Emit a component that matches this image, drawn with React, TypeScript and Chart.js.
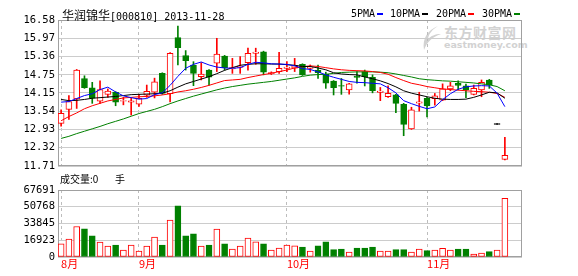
import React, { useEffect, useRef } from "react";
import { Chart, registerables } from "chart.js";
Chart.register(...registerables);

// ---------- data ----------
const monthLabels = ["8月", "9月", "10月", "11月"];
const monthStarts = [0, 10, 29, 47];

const opens = [13.13, 13.60, 13.95, 14.63, 14.32, 13.87, 14.10, 14.17, 13.87, 13.85,
  13.77, 14.07, 14.17, 14.80, 14.12, 15.99, 15.39, 15.08, 14.69, 14.91,
  15.14, 15.38, 14.96, 15.01, 15.16, 15.48, 15.52, 14.78, 14.86, 14.98,
  14.97, 15.10, 14.98, 14.91, 14.77, 14.54, 14.39, 14.25, 14.70, 14.86,
  14.67, 14.18, 14.02, 14.08, 13.77, 12.95, 13.82, 13.97, 13.96, 13.91,
  14.28, 14.47, 14.38, 14.10, 14.25, 14.58, 13.11, 11.93];
const highs = [13.58, 14.06, 14.93, 14.72, 14.50, 14.55, 14.28, 14.19, 14.00, 13.99,
  14.10, 14.41, 14.64, 14.82, 15.49, 16.38, 15.56, 15.19, 15.16, 14.93,
  15.97, 15.40, 15.30, 15.36, 15.64, 15.64, 15.54, 14.85, 15.50, 15.19,
  15.30, 15.12, 15.08, 15.08, 14.84, 14.56, 14.63, 14.47, 14.86, 14.91,
  14.75, 14.33, 14.38, 14.10, 13.80, 13.67, 14.17, 14.00, 14.13, 14.45,
  14.50, 14.55, 14.44, 14.41, 14.58, 14.60, 13.11, 12.67];
const lows = [13.04, 13.26, 13.63, 14.30, 13.80, 13.80, 14.00, 13.72, 13.75, 13.41,
  13.70, 14.00, 13.98, 14.10, 13.85, 15.08, 14.91, 14.39, 14.58, 14.41,
  14.86, 14.91, 14.80, 14.80, 14.91, 15.10, 14.75, 14.76, 14.80, 14.86,
  14.86, 14.73, 14.84, 14.63, 14.30, 14.08, 14.10, 14.11, 14.47, 14.38,
  14.15, 13.89, 14.00, 13.49, 12.72, 12.93, 13.54, 13.35, 13.74, 13.89,
  14.22, 14.25, 13.99, 14.08, 14.02, 14.30, 13.11, 11.91];
const closes = [13.47, 13.86, 14.91, 14.32, 13.97, 14.26, 14.21, 13.84, 13.89, 13.87,
  13.97, 14.20, 14.52, 14.13, 15.47, 15.66, 15.22, 14.80, 14.78, 14.67,
  15.44, 14.99, 14.98, 15.03, 15.47, 15.50, 14.84, 14.83, 14.97, 15.00,
  15.06, 14.75, 15.00, 14.82, 14.47, 14.32, 14.37, 14.45, 14.68, 14.69,
  14.22, 14.20, 14.13, 13.80, 13.10, 13.58, 13.84, 13.71, 14.05, 14.28,
  14.38, 14.40, 14.25, 14.30, 14.50, 14.41, 13.11, 12.07];
const volumes = [13400, 18100, 30800, 28500, 21400, 15100, 11100, 12100, 7000, 12100,
  6000, 11100, 20100, 12100, 37200, 51600, 21400, 23500, 11100, 12100,
  28100, 13400, 8000, 11100, 19100, 15400, 13400, 7000, 9000, 12100,
  11400, 10100, 6000, 11400, 15400, 7400, 8000, 5000, 9000, 9000,
  10100, 6000, 6000, 7400, 7400, 5000, 8000, 6400, 7000, 8700,
  7000, 8000, 8000, 3000, 4000, 5400, 7000, 59300];

const ma5 = [13.84, 13.86, 13.96, 14.06, 14.12, 14.26, 14.34, 14.18, 14.05, 13.99,
  13.94, 13.96, 14.09, 14.15, 14.40, 14.70, 14.97, 15.10, 15.18, 15.08,
  15.01, 14.98, 14.97, 14.99, 15.10, 15.17, 15.15, 15.12, 15.11, 15.10,
  15.05, 14.96, 14.93, 14.85, 14.75, 14.67, 14.60, 14.53, 14.50, 14.49,
  14.47, 14.45, 14.32, 14.15, 13.89, 13.79, 13.70, 13.62, 13.68, 13.92,
  14.12, 14.27, 14.35, 14.38, 14.39, 14.38, 14.14, 13.69];
const ma10 = [13.93, 13.89, 13.90, 13.93, 13.97, 13.99, 14.01, 14.03, 14.06, 14.09,
  14.10, 14.11, 14.12, 14.14, 14.22, 14.34, 14.45, 14.53, 14.61, 14.69,
  14.79, 14.90, 14.99, 15.07, 15.10, 15.12, 15.12, 15.11, 15.11, 15.09,
  15.07, 15.03, 15.03, 14.98, 14.92, 14.82, 14.78, 14.76, 14.75, 14.68,
  14.62, 14.55, 14.46, 14.35, 14.22, 14.14, 14.08, 14.02, 13.97, 13.94,
  13.93, 13.93, 13.94, 14.00, 14.08, 14.17, 14.15, 13.97];
const ma20 = [13.22, 13.36, 13.48, 13.62, 13.72, 13.80, 13.88, 13.93, 13.98, 14.00,
  14.02, 14.03, 14.05, 14.08, 14.12, 14.18, 14.22, 14.27, 14.33, 14.40,
  14.48, 14.56, 14.58, 14.60, 14.66, 14.71, 14.76, 14.80, 14.86, 14.91,
  14.98, 15.02, 15.05, 15.03, 14.99, 14.95, 14.92, 14.90, 14.89, 14.88,
  14.86, 14.83, 14.77, 14.66, 14.56, 14.47, 14.42, 14.36, 14.32, 14.28,
  14.26, 14.24, 14.22, 14.20, 14.19, 14.17, 14.13, 14.00];
const ma30 = [12.63, 12.70, 12.79, 12.87, 12.95, 13.03, 13.12, 13.20, 13.28, 13.37,
  13.46, 13.53, 13.60, 13.69, 13.79, 13.88, 13.96, 14.04, 14.11, 14.18,
  14.25, 14.31, 14.36, 14.40, 14.44, 14.47, 14.50, 14.53, 14.57, 14.61,
  14.65, 14.70, 14.74, 14.76, 14.77, 14.80, 14.83, 14.84, 14.85, 14.85,
  14.85, 14.84, 14.82, 14.78, 14.73, 14.68, 14.62, 14.59, 14.57, 14.55,
  14.54, 14.52, 14.50, 14.48, 14.45, 14.42, 14.36, 14.22];

const priceTicks = [11.71, 12.32, 12.93, 13.54, 14.15, 14.75, 15.36, 15.97, 16.58];
const volumeTicks = [0, 16923, 33845, 50768, 67691];

// ---------- styles ----------
const RED = "#ff0000";
const GREEN = "#008000";
const BLACK = "#000000";
const BLUE = "#0000ff";
const GRID = "#cccccc";
const DASHC = "#bdbdbd";
const FRAME = "#a0a0a0";
const X_MIN = -0.4;
const X_MAX = 59.2;
const MONO = '"DejaVu Sans Mono", monospace';
const CJK = '"Noto Sans CJK SC", sans-serif';

const dir = (i: number) => (closes[i] > opens[i] ? 1 : closes[i] < opens[i] ? -1 : 0);
const candleColor = (i: number) => (dir(i) > 0 ? RED : dir(i) < 0 ? GREEN : BLACK);

const framePlugin = {
  id: "frame",
  beforeDatasetsDraw(chart: any) {
    const { ctx, chartArea: a } = chart;
    ctx.save();
    ctx.strokeStyle = FRAME;
    ctx.lineWidth = 1;
    const l = Math.round(a.left) + 0.5;
    const t = Math.round(a.top) + 0.5;
    const r = Math.round(a.right) - 0.5;
    const b = Math.round(a.bottom) - 0.5;
    ctx.strokeRect(l, t, r - l, b - t);
    ctx.restore();
  },
};

const monthAxis = (showLabels: boolean) => ({
  type: "linear",
  min: X_MIN,
  max: X_MAX,
  offset: false,
  afterBuildTicks: (s: any) => {
    s.ticks = monthStarts.map((v) => ({ value: v }));
  },
  afterFit: (s: any) => {
    s.height = showLabels ? 19 : 0;
  },
  ticks: {
    display: showLabels,
    autoSkip: false,
    maxRotation: 0,
    align: "start",
    padding: 0,
    color: RED,
    font: { family: CJK, size: 11 },
    callback: (v: any) => monthLabels[monthStarts.indexOf(Number(v))] ?? "",
  },
  grid: { color: DASHC, drawTicks: false, lineWidth: 1, offset: false },
  border: { display: false, dash: [3, 3] },
});

export default function App() {
  const priceRef = useRef<HTMLCanvasElement>(null);
  const volRef = useRef<HTMLCanvasElement>(null);

  useEffect(() => {
    const idx = closes.map((_, i) => i);
    const line = (data: number[], color: string) => ({
      type: "line",
      data: data.map((v, i) => ({ x: i, y: v })),
      borderColor: color,
      borderWidth: 1,
      pointRadius: 0,
      tension: 0,
      fill: false,
      order: 0,
    });

    const priceChart = new Chart(priceRef.current as HTMLCanvasElement, {
      type: "bar",
      data: {
        datasets: [
          line(ma5, BLUE),
          line(ma10, BLACK),
          line(ma20, RED),
          line(ma30, GREEN),
          {
            type: "bar",
            data: idx.map((i) => {
              const lo = Math.min(opens[i], closes[i]);
              const hi = Math.max(opens[i], closes[i]);
              return { x: i, y: hi - lo < 0.02 ? [lo - 0.012, hi + 0.012] : [lo, hi] };
            }),
            backgroundColor: idx.map((i) => (dir(i) > 0 ? "#ffffff" : candleColor(i))),
            borderColor: idx.map((i) => candleColor(i)),
            borderWidth: 1,
            borderSkipped: false,
            barThickness: 6,
            grouped: false,
            order: 1,
          } as any,
          {
            type: "bar",
            data: idx.map((i) => ({
              x: i,
              y: highs[i] - lows[i] < 0.02 ? [lows[i] - 0.012, highs[i] + 0.012] : [lows[i], highs[i]],
            })),
            backgroundColor: idx.map((i) => candleColor(i)),
            borderWidth: 0,
            barThickness: 1,
            grouped: false,
            order: 2,
          } as any,
        ] as any,
      },
      options: {
        animation: false,
        responsive: false,
        devicePixelRatio: 1,
        layout: { padding: { top: 20, bottom: 14, left: 0, right: 56 } },
        plugins: { legend: { display: false }, tooltip: { enabled: false } },
        scales: {
          x: monthAxis(false) as any,
          y: {
            type: "linear",
            min: 11.71,
            max: 16.58,
            afterBuildTicks: (s: any) => {
              s.ticks = priceTicks.map((v) => ({ value: v }));
            },
            afterFit: (s: any) => {
              s.width = 58;
            },
            ticks: {
              autoSkip: false,
              padding: 3,
              color: BLACK,
              font: { family: MONO, size: 10.5 },
              callback: (v: any) => Number(v).toFixed(2),
            },
            grid: { color: GRID, drawTicks: false },
            border: { display: false },
          },
        },
      } as any,
      plugins: [framePlugin],
    });

    const volChart = new Chart(volRef.current as HTMLCanvasElement, {
      type: "bar",
      data: {
        datasets: [
          {
            data: idx.map((i) => ({ x: i, y: volumes[i] })),
            backgroundColor: idx.map((i) => (closes[i] >= opens[i] ? "#ffffff" : GREEN)),
            borderColor: idx.map((i) => (closes[i] >= opens[i] ? RED : GREEN)),
            borderWidth: 1,
            borderSkipped: false,
            barThickness: 6,
            grouped: false,
          } as any,
        ],
      },
      options: {
        animation: false,
        responsive: false,
        devicePixelRatio: 1,
        layout: { padding: { top: 20, bottom: 0, left: 0, right: 56 } },
        plugins: { legend: { display: false }, tooltip: { enabled: false } },
        scales: {
          x: monthAxis(true) as any,
          y: {
            type: "linear",
            min: 0,
            max: 67691,
            afterBuildTicks: (s: any) => {
              s.ticks = volumeTicks.map((v) => ({ value: v }));
            },
            afterFit: (s: any) => {
              s.width = 58;
            },
            ticks: {
              autoSkip: false,
              padding: 3,
              color: BLACK,
              font: { family: MONO, size: 10.5 },
              callback: (v: any) => String(v),
            },
            grid: { color: GRID, drawTicks: false },
            border: { display: false },
          },
        },
      } as any,
      plugins: [framePlugin],
    });

    return () => {
      priceChart.destroy();
      volChart.destroy();
    };
  }, []);

  const legend = [
    { label: "5PMA", color: BLUE, x: 351 },
    { label: "10PMA", color: BLACK, x: 390 },
    { label: "20PMA", color: RED, x: 436 },
    { label: "30PMA", color: GREEN, x: 482 },
  ];

  return (
    <div
      style={{
        position: "absolute",
        left: 0,
        top: 0,
        width: 578,
        height: 276,
        background: "#ffffff",
        overflow: "hidden",
      }}
    >
      {/* watermark */}
      <svg width={24} height={26} style={{ position: "absolute", left: 420, top: 25 }}>
        <path
          d="M18 1 C8 5 2 13 4 25 C7 17 12 12 21 9 C15 9 11 11 8 14 C9 8 13 4 18 1 Z"
          fill="#d2d2d2"
        />
      </svg>
      <div
        style={{
          position: "absolute",
          left: 444,
          top: 24,
          font: `bold 14px ${CJK}`,
          color: "#d2d2d2",
          letterSpacing: 0.5,
          lineHeight: "16px",
          whiteSpace: "nowrap",
        }}
      >
        东方财富网
      </div>
      <div
        style={{
          position: "absolute",
          left: 444,
          top: 40,
          font: `bold 9.5px "DejaVu Sans", sans-serif`,
          color: "#d2d2d2",
          lineHeight: "10px",
          whiteSpace: "nowrap",
        }}
      >
        eastmoney.com
      </div>

      <canvas ref={priceRef} width={578} height={180} style={{ position: "absolute", left: 0, top: 0 }} />
      <canvas ref={volRef} width={578} height={106} style={{ position: "absolute", left: 0, top: 170 }} />

      {/* title */}
      <div
        style={{
          position: "absolute",
          left: 62,
          top: 6,
          lineHeight: "13px",
          whiteSpace: "nowrap",
          color: BLACK,
        }}
      >
        <span style={{ font: `12px ${CJK}` }}>华润锦华</span>
        <span style={{ font: `10px ${MONO}` }}>[000810] 2013-11-28</span>
      </div>

      {/* legend */}
      {legend.map((l) => (
        <React.Fragment key={l.label}>
          <div
            style={{
              position: "absolute",
              left: l.x,
              top: 8,
              font: `10px ${MONO}`,
              lineHeight: "12px",
              color: BLACK,
              whiteSpace: "nowrap",
            }}
          >
            {l.label}
          </div>
          <div
            style={{
              position: "absolute",
              left: l.x + l.label.length * 6 + 2,
              top: 13,
              width: 6,
              height: 2,
              background: l.color,
            }}
          />
        </React.Fragment>
      ))}

      {/* volume caption */}
      <div
        style={{
          position: "absolute",
          left: 60,
          top: 171,
          lineHeight: "12px",
          whiteSpace: "nowrap",
          color: BLACK,
        }}
      >
        <span style={{ font: `10px ${CJK}` }}>成交量:0</span>
      </div>
      <div
        style={{
          position: "absolute",
          left: 115,
          top: 171,
          lineHeight: "12px",
          font: `10px ${CJK}`,
          color: BLACK,
        }}
      >
        手
      </div>
    </div>
  );
}
